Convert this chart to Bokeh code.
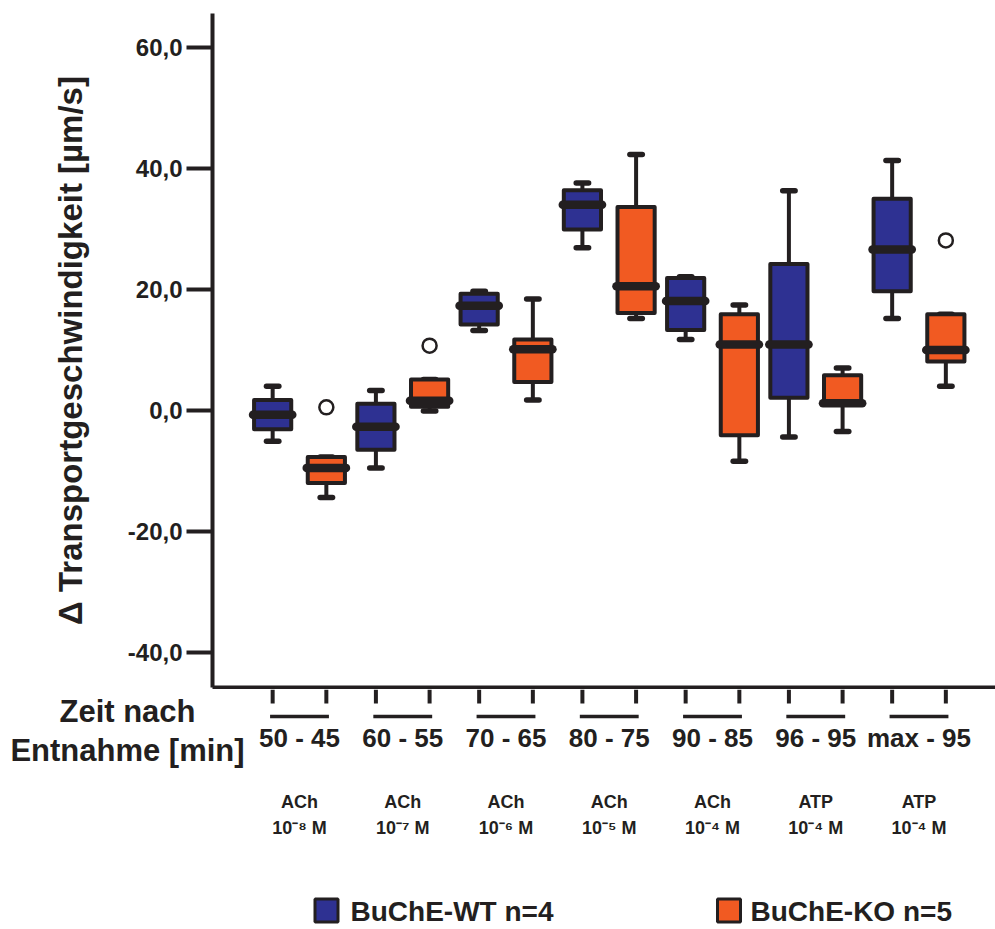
from bokeh.plotting import figure
from bokeh.layouts import column
from bokeh.models import Range1d, FixedTicker, ColumnDataSource
from bokeh.core.properties import value
from bokeh.embed import file_html
from bokeh.resources import INLINE

# ---------------- data ----------------
groups = ["50 - 45", "60 - 55", "70 - 65", "80 - 75", "90 - 85", "96 - 95", "max - 95"]
agents = ["ACh", "ACh", "ACh", "ACh", "ACh", "ATP", "ATP"]
concs = ["10⁻⁸ M", "10⁻⁷ M", "10⁻⁶ M", "10⁻⁵ M", "10⁻⁴ M", "10⁻⁴ M", "10⁻⁴ M"]
series = ["BuChE-WT n=4", "BuChE-KO n=5"]
x_title = ["Zeit nach", "Entnahme [min]"]

wt_low = [-5.1, -9.5, 13.2, 26.9, 11.7, -4.4, 15.2]
wt_q1 = [-3.1, -6.5, 14.2, 29.9, 13.3, 2.1, 19.7]
wt_med = [-0.7, -2.7, 17.3, 34.0, 18.1, 10.9, 26.6]
wt_q3 = [1.7, 1.1, 19.3, 36.4, 21.9, 24.2, 35.0]
wt_high = [4.0, 3.3, 19.7, 37.6, 22.1, 36.3, 41.3]

ko_low = [-14.4, -0.1, 1.7, 15.2, -8.4, -3.5, 4.0]
ko_q1 = [-12.0, 0.6, 4.7, 16.1, -4.1, 1.1, 8.1]
ko_med = [-9.5, 1.6, 10.1, 20.5, 10.9, 1.2, 10.0]
ko_q3 = [-7.7, 5.1, 11.7, 33.6, 15.9, 5.8, 15.9]
ko_high = [-7.7, 5.1, 18.4, 42.3, 17.4, 7.0, 15.9]

ko_outlier_group = [0, 1, 6]
ko_outlier_value = [0.5, 10.7, 28.1]

y_ticks = [-40, -20, 0, 20, 40, 60]
y_min, y_max = -45.8, 65.6

# ---------------- layout / style ----------------
W = 995
H1 = 689
H2 = 240
DARK = "#231f20"
COLORS = ["#2e3192", "#f15a22"]
OFFSETS = [-0.26, 0.26]
FONT = "Liberation Sans"
PX_PER_GROUP = 103.25
FIRST_GROUP_PX = 299.0
FRAME_LEFT = 212

def px_to_x(px):
    return (px - FIRST_GROUP_PX) / PX_PER_GROUP

xr = Range1d(px_to_x(FRAME_LEFT), px_to_x(W))

p1 = figure(width=W, height=H1, output_backend="svg", toolbar_location=None,
            x_range=xr, y_range=Range1d(y_min, y_max),
            min_border_left=FRAME_LEFT, min_border_right=0,
            min_border_top=13, min_border_bottom=2)
p1.outline_line_color = None
p1.grid.visible = False
p1.background_fill_color = "white"
p1.border_fill_color = "white"

ya = p1.yaxis[0]
ya.ticker = FixedTicker(ticks=y_ticks, minor_ticks=[])
ya.major_label_overrides = {t: f"{t:.1f}".replace(".", ",") for t in y_ticks}
ya.major_label_text_font = FONT
ya.major_label_text_font_style = "bold"
ya.major_label_text_font_size = "24px"
ya.major_label_text_color = DARK
ya.major_label_standoff = 4
ya.major_tick_out = 26
ya.major_tick_in = 0
ya.major_tick_line_width = 4
ya.major_tick_line_color = DARK
ya.minor_tick_line_color = None
ya.axis_line_width = 4
ya.axis_line_color = DARK
ya.axis_label = "Δ Transportgeschwindigkeit [µm/s]"
ya.axis_label_text_font = FONT
ya.axis_label_text_font_style = "bold"
ya.axis_label_text_font_size = "33px"
ya.axis_label_text_color = DARK
ya.axis_label_standoff = 36

xa = p1.xaxis[0]
xa.ticker = FixedTicker(ticks=[], minor_ticks=[])
xa.major_tick_out = 0
xa.major_tick_in = 0
xa.major_label_text_font_size = "0px"
xa.major_label_standoff = 0
xa.minor_tick_line_color = None
xa.axis_line_width = 4
xa.axis_line_color = DARK

stats = [
    (wt_low, wt_q1, wt_med, wt_q3, wt_high),
    (ko_low, ko_q1, ko_med, ko_q3, ko_high),
]

for k, (lo, q1, med, q3, hi) in enumerate(stats):
    xs = [i + OFFSETS[k] for i in range(len(groups))]
    src = ColumnDataSource(dict(x=xs, lo=lo, q1=q1, med=med, q3=q3, hi=hi,
                                xl=[x - 0.06 for x in xs], xr=[x + 0.06 for x in xs],
                                ml=[x - 0.19 for x in xs], mr=[x + 0.19 for x in xs]))
    p1.segment(x0="x", y0="hi", x1="x", y1="q3", source=src, line_color=DARK, line_width=4)
    p1.segment(x0="x", y0="q1", x1="x", y1="lo", source=src, line_color=DARK, line_width=4)
    p1.segment(x0="xl", y0="hi", x1="xr", y1="hi", source=src, line_color=DARK,
               line_width=5.5, line_cap="round")
    p1.segment(x0="xl", y0="lo", x1="xr", y1="lo", source=src, line_color=DARK,
               line_width=5.5, line_cap="round")
    p1.vbar(x="x", width=0.36, top="q3", bottom="q1", source=src,
            fill_color=COLORS[k], line_color=DARK, line_width=4, line_join="round")
    p1.segment(x0="ml", y0="med", x1="mr", y1="med", source=src, line_color=DARK,
               line_width=8.5, line_cap="round")

p1.scatter([g + OFFSETS[1] for g in ko_outlier_group], ko_outlier_value, size=14,
           marker="circle", fill_color="white", line_color=DARK, line_width=2.5)

# ---------------- lower panel (category labels, legend) ----------------
can_unalign = "frame_align" in p1.properties()
p2_left = 0 if can_unalign else FRAME_LEFT
p2 = figure(width=W, height=H2, output_backend="svg", toolbar_location=None,
            x_range=Range1d(px_to_x(p2_left), px_to_x(W)), y_range=Range1d(H2, 0),
            x_axis_location=None, y_axis_location=None,
            min_border_left=p2_left, min_border_right=0, min_border_top=0,
            min_border_bottom=0)
if can_unalign:
    p1.frame_align = False
    p2.frame_align = False
p2.outline_line_color = None
p2.grid.visible = False
p2.background_fill_color = "white"
p2.border_fill_color = "white"

tick_x = [i + o for i in range(len(groups)) for o in OFFSETS]
p2.segment(x0=tick_x, y0=[0] * len(tick_x), x1=tick_x, y1=[14] * len(tick_x),
           line_color=DARK, line_width=4)
gx = list(range(len(groups)))
p2.segment(x0=[g - 0.285 for g in gx], y0=[27] * len(gx), x1=[g + 0.285 for g in gx],
           y1=[27] * len(gx), line_color=DARK, line_width=3.5)

lab = ColumnDataSource(dict(x=gx, t=groups, a=agents, c=concs))
p2.text(x="x", y=48, text="t", source=lab, text_font=value(FONT), text_font_style="bold",
        text_font_size="26px", text_align="center", text_baseline="alphabetic", text_color=DARK)
p2.text(x="x", y=112, text="a", source=lab, text_font=value(FONT), text_font_style="bold",
        text_font_size="18px", text_align="center", text_baseline="alphabetic", text_color=DARK)
p2.text(x="x", y=138.5, text="c", source=lab, text_font=value(FONT), text_font_style="bold",
        text_font_size="18px", text_align="center", text_baseline="alphabetic", text_color=DARK)

p2.text(x=[px_to_x(127)] * 2, y=[22, 61], text=x_title,
        text_font=value(FONT), text_font_style="bold", text_font_size="31px",
        text_align="center", text_baseline="alphabetic", text_color=DARK)

leg_sq_x = [px_to_x(326), px_to_x(728.5)]
leg_tx_x = [px_to_x(350), px_to_x(750)]
p2.scatter(leg_sq_x, [221, 221], marker="square", size=23, fill_color=COLORS,
           line_color=DARK, line_width=3)
p2.text(x=leg_tx_x, y=[222, 222], text=series, text_font=value(FONT),
        text_font_style="bold", text_font_size="28px", text_align="left",
        text_baseline="alphabetic", text_color=DARK)

layout = column(p1, p2, spacing=0)
open("out.html", "w").write(file_html(layout, INLINE))
